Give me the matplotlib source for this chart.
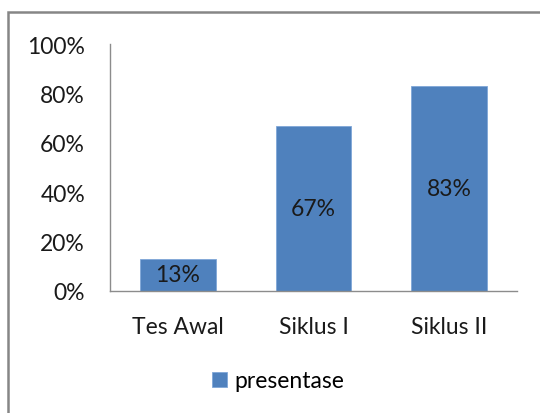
import matplotlib
matplotlib.use("Agg")
import matplotlib.pyplot as plt
from matplotlib.patches import Rectangle
from matplotlib.ticker import FuncFormatter

categories = ["Tes Awal", "Siklus I", "Siklus II"]
values = [13, 67, 83]
series_name = "presentase"
yticks = [0, 20, 40, 60, 80, 100]

plt.rcParams['font.family'] = ['Lato', 'DejaVu Sans']

fig = plt.figure(figsize=(5.4, 4.14), dpi=100)
ax = fig.add_axes([110/540, 1-292/414, (517-110)/540, (292-45)/414])

bar_color = "#4F81BD"
bars = ax.bar(categories, values, width=0.56, color=bar_color, label=series_name,
              edgecolor="#7FA7D8", linewidth=0.6)
ax.bar_label(bars, labels=[f"{v}%" for v in values], label_type="center",
             fontsize=16.5, color="#1a1a1a")

ax.set_ylim(0, 100)
ax.set_xlim(-0.5, 2.5)
ax.set_yticks(yticks)
ax.yaxis.set_major_formatter(FuncFormatter(lambda v, p: f"{int(v)}%"))
ax.tick_params(axis='y', length=0, pad=18, labelsize=16.5, labelcolor="#1a1a1a")
ax.tick_params(axis='x', length=0, pad=18, labelsize=16.5, labelcolor="#1a1a1a")
for s in ["top", "right"]:
    ax.spines[s].set_visible(False)
for s in ["left", "bottom"]:
    ax.spines[s].set_color("#8c8c8c")
    ax.spines[s].set_linewidth(1.0)

leg = fig.legend(handles=[bars], labels=[series_name], loc="center",
                 bbox_to_anchor=(278/540, 1-382/414), frameon=False,
                 fontsize=16.5, handlelength=0.65, handleheight=0.65, handletextpad=0.3)

fig.patches.append(Rectangle((8/540, -0.1), 1.2, 1 - 13/414 + 0.1, transform=fig.transFigure,
                             fill=False, edgecolor="#868686", linewidth=1.8, zorder=0))

fig.savefig("out.png", dpi=100)
